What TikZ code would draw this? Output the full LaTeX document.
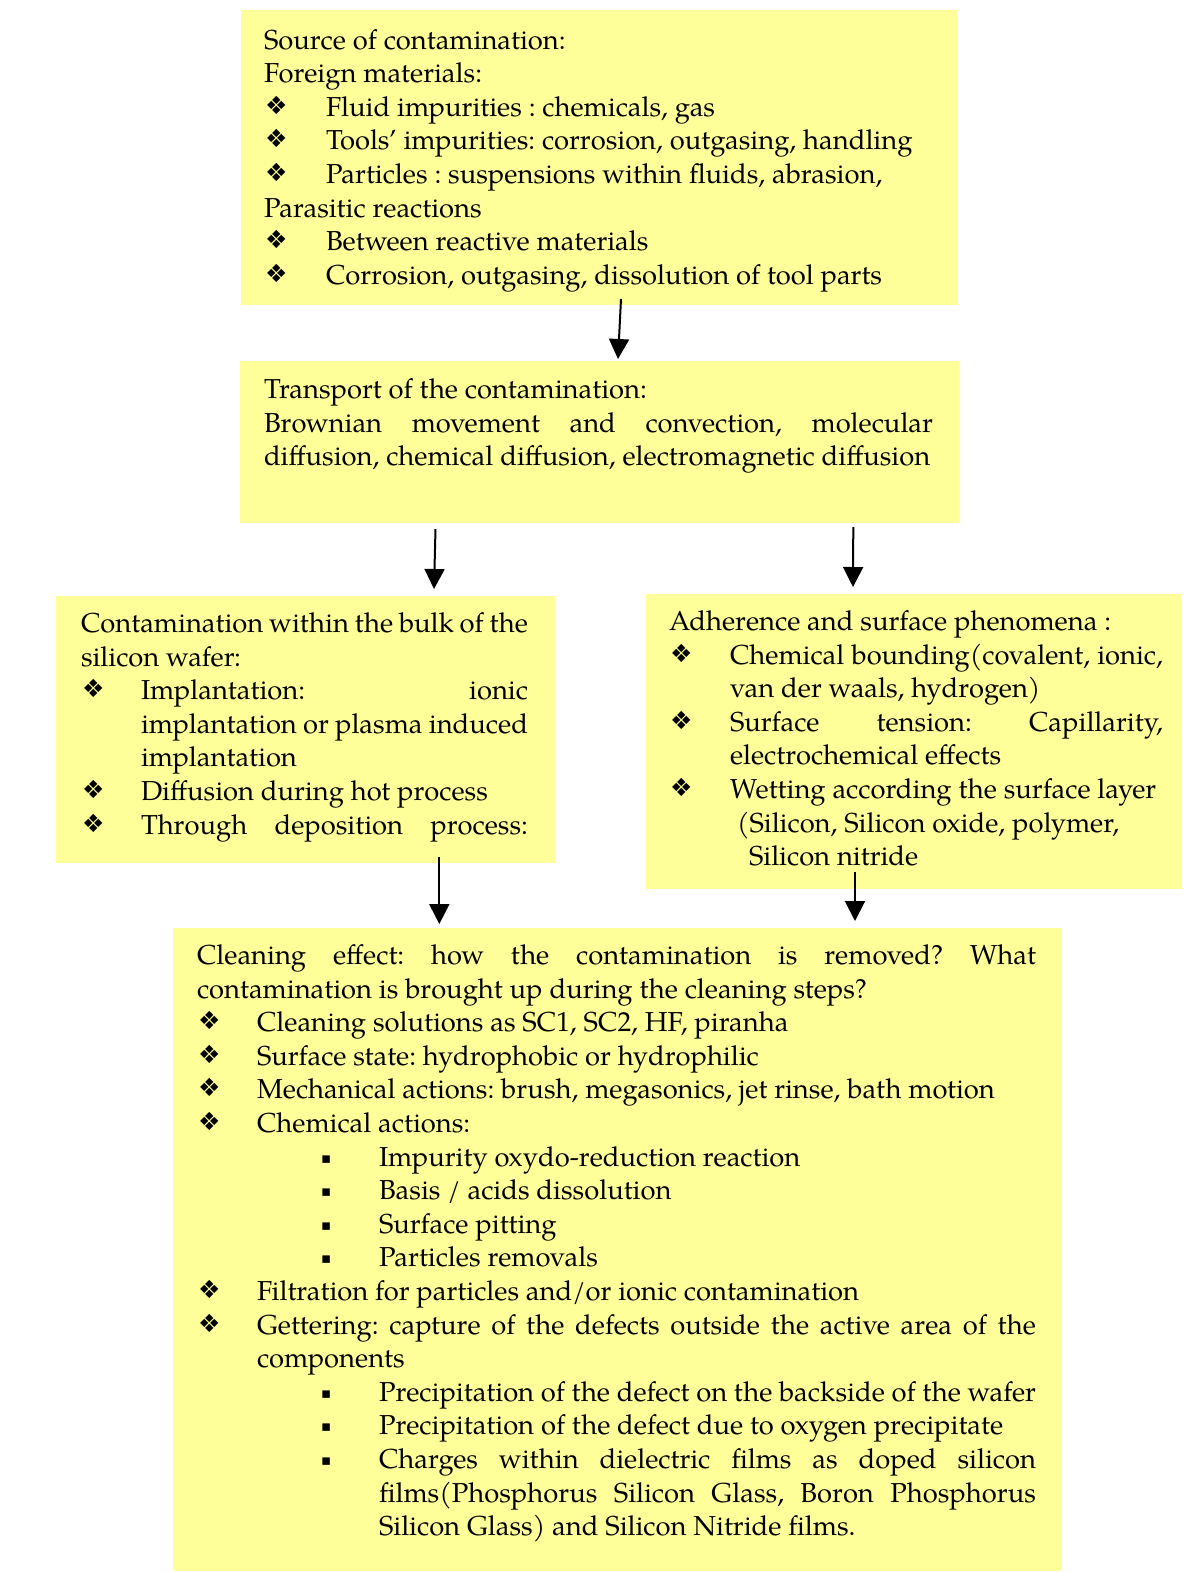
\documentclass[tikz,border=0pt]{standalone}
\usepackage{fontspec}
\setmainfont{texgyrepagella}[Extension=.otf,UprightFont=*-regular,BoldFont=*-bold,ItalicFont=*-italic,BoldItalicFont=*-bolditalic]
\newfontfamily\symf{DejaVu Sans}
\usetikzlibrary{arrows.meta}
\definecolor{boxyellow}{RGB}{255,255,153}
\newcommand{\dia}{\raisebox{2pt}{\symf\fontsize{25}{25}\selectfont ❖}}
\newcommand{\sqb}{\raisebox{3pt}{\symf\fontsize{15}{15}\selectfont ▪}}
% plain line with indent
\newcommand{\Ln}[2]{\noindent\hspace*{#1}#2\par}
% justified line with indent
\newcommand{\Lj}[2]{\noindent\hspace*{#1}\makebox[\dimexpr\linewidth-#1\relax][s]{#2}\par}
% diamond bullet line
\newcommand{\Bp}[2]{\noindent\makebox[#1][l]{\hspace*{1pt}\dia}#2\par}
\newcommand{\Bj}[2]{\noindent\makebox[#1][l]{\hspace*{1pt}\dia}\makebox[\dimexpr\linewidth-#1\relax][s]{#2}\par}
% square sub-bullet line
\newcommand{\Sp}[1]{\noindent\hspace*{124pt}\makebox[58pt][l]{\sqb}#1\par}
\newcommand{\Sj}[1]{\noindent\hspace*{124pt}\makebox[58pt][l]{\sqb}\makebox[\dimexpr\linewidth-182pt\relax][s]{#1}\par}
\newcommand{\txtset}{\fontsize{27.4}{33.6}\selectfont\frenchspacing\parindent=0pt\parskip=0pt}
\tikzset{
  ybox/.style={fill=boxyellow, draw=none, inner sep=0pt, outer sep=0pt, anchor=north west},
  txt/.style={anchor=base west, inner sep=0pt, outer sep=0pt},
  arr/.style={line width=2pt, -{Triangle[width=20pt,length=20pt]}}
}
\begin{document}
\begin{tikzpicture}[x=1pt,y=-1pt]
\useasboundingbox (0,0) rectangle (1184,1572);
\fill[white] (0,0) rectangle (1184,1572);
% boxes
\node[ybox, minimum width=716pt, minimum height=295pt] (b1) at (241,10) {};
\node[ybox, minimum width=719pt, minimum height=162pt] (b2) at (240,361) {};
\node[ybox, minimum width=499pt, minimum height=267pt] (b3) at (56,596) {};
\node[ybox, minimum width=535pt, minimum height=295pt] (b4) at (646,594) {};
\node[ybox, minimum width=889pt, minimum height=643pt] (b5) at (173,928) {};
% texts
\node[txt] (t1) at (264,49) {\parbox[t]{680pt}{\txtset
\Ln{0pt}{Source of contamination:}
\Ln{0pt}{Foreign materials:}
\Bp{62pt}{Fluid impurities : chemicals, gas}
\Bp{62pt}{Tools’ impurities: corrosion, outgasing, handling}
\Bp{62pt}{Particles : suspensions within fluids, abrasion,}
\Ln{0pt}{Parasitic reactions}
\Bp{62pt}{Between reactive materials}
\Bp{62pt}{Corrosion, outgasing, dissolution of tool parts}
}};
\node[txt] (t2) at (264,398.5) {\parbox[t]{669pt}{\txtset
\Ln{0pt}{Transport of the contamination:}
\Lj{0pt}{Brownian movement and convection, molecular}
\Ln{0pt}{diffusion, chemical diffusion, electromagnetic diffusion}
}};
\node[txt] (t3) at (81,632.5) {\parbox[t]{447pt}{\txtset
\Lj{0pt}{Contamination within the bulk of the}
\Ln{0pt}{silicon wafer:}
\Bj{60pt}{Implantation: ionic}
\Lj{60pt}{implantation or plasma induced}
\Ln{60pt}{implantation}
\Bp{60pt}{Diffusion during hot process}
\Bj{60pt}{Through deposition process:}
}};
\node[txt] (t4) at (669,630.5) {\parbox[t]{494pt}{\txtset
\Ln{0pt}{Adherence and surface phenomena :}
\Bj{61pt}{Chemical bounding(covalent, ionic,}
\Ln{61pt}{van der waals, hydrogen)}
\Bj{61pt}{Surface tension: Capillarity,}
\Ln{61pt}{electrochemical effects}
\Bp{61pt}{Wetting according the surface layer}
\Ln{68pt}{(Silicon, Silicon oxide, polymer,}
\Ln{80pt}{Silicon nitride}
}};
\node[txt] (t5) at (197,964.5) {\parbox[t]{839pt}{\txtset
\Lj{0pt}{Cleaning effect: how the contamination is removed? What}
\Ln{0pt}{contamination is brought up during the cleaning steps?}
\Bp{60pt}{Cleaning solutions as SC1, SC2, HF, piranha}
\Bp{60pt}{Surface state: hydrophobic or hydrophilic}
\Bp{60pt}{Mechanical actions: brush, megasonics, jet rinse, bath motion}
\Bp{60pt}{Chemical actions:}
\Sp{Impurity oxydo-reduction reaction}
\Sp{Basis / acids dissolution}
\Sp{Surface pitting}
\Sp{Particles removals}
\Bp{60pt}{Filtration for particles and/or ionic contamination}
\Bj{60pt}{Gettering: capture of the defects outside the active area of the}
\Ln{60pt}{components}
\Sp{Precipitation of the defect on the backside of the wafer}
\Sp{Precipitation of the defect due to oxygen precipitate}
\Sj{Charges within dielectric films as doped silicon}
\Lj{182pt}{films(Phosphorus Silicon Glass, Boron Phosphorus}
\Ln{182pt}{Silicon Glass) and Silicon Nitride films.}
}};
% connectors
\coordinate (a1s) at (621,299);
\coordinate (a1e) at (618,359);
\coordinate (a2s) at (435.5,529);
\coordinate (a2e) at (434,589);
\coordinate (a3s) at (853.3,527);
\coordinate (a3e) at (853,587);
\coordinate (a4s) at (439.3,857);
\coordinate (a4e) at (439.3,924);
\coordinate (a5s) at (855,872);
\coordinate (a5e) at (855,921);
\draw[arr] (a1s) -- (a1e);
\draw[arr] (a2s) -- (a2e);
\draw[arr] (a3s) -- (a3e);
\draw[arr] (a4s) -- (a4e);
\draw[arr] (a5s) -- (a5e);
\end{tikzpicture}
\end{document}
